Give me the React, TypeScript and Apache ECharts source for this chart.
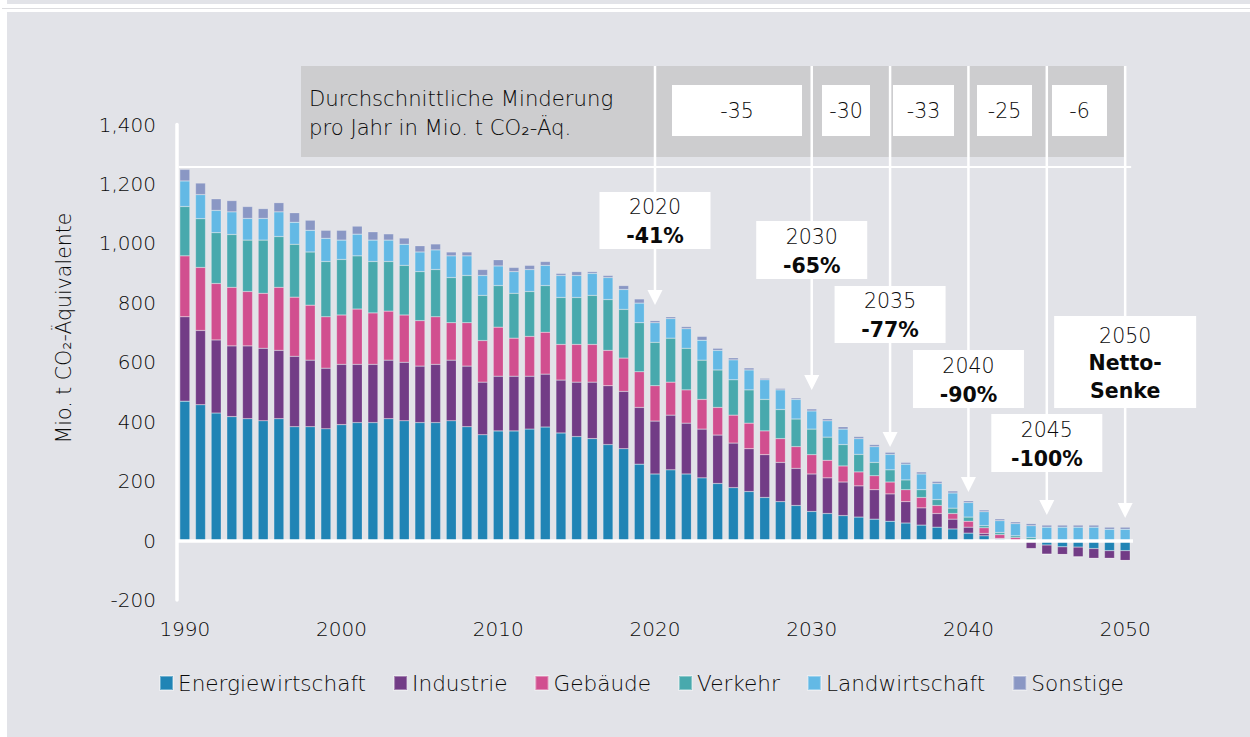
import { useEffect, useRef } from "react";
import * as echarts from "echarts";

const years: string[] = Array.from({ length: 61 }, (_, i) => String(1990 + i));

const seriesNames = ["Energiewirtschaft", "Industrie", "Gebäude", "Verkehr", "Landwirtschaft", "Sonstige"];
const seriesColors = ["#2084b5", "#723c86", "#d14f8f", "#48a9ad", "#63b9e5", "#8a97c4"];

const energie = [
  469, 457, 429, 417, 410, 403, 410, 383, 383, 376,
  390, 397, 397, 410, 403, 397, 397, 403, 383, 356,
  369, 369, 375, 382, 362, 350, 343, 323, 309, 257,
  224, 238, 224, 211, 192, 178, 165, 145, 131, 118,
  98, 91, 84, 79, 72, 65, 59, 52, 45, 39,
  25, 16, 5, 0, 0, -15, -21, -22, -27, -34,
  -34,
];
const industrie = [
  284, 250, 246, 238, 245, 244, 230, 237, 224, 204,
  203, 196, 196, 197, 197, 190, 196, 204, 204, 177,
  184, 184, 178, 178, 178, 183, 190, 198, 193, 191,
  178, 184, 171, 164, 163, 150, 144, 144, 132, 125,
  126, 120, 113, 105, 99, 92, 72, 58, 46, 33,
  20, 8, 2, 0, -27, -31, -26, -33, -33, -26,
  -33,
];
const gebaeude = [
  205, 212, 190, 197, 183, 185, 212, 199, 185, 173,
  166, 186, 173, 165, 159, 153, 160, 126, 146, 140,
  165, 128, 134, 141, 120, 127, 127, 119, 112, 120,
  119, 111, 112, 100, 93, 94, 86, 80, 80, 73,
  65, 59, 54, 47, 47, 40, 40, 35, 27, 19,
  20, 19, 13, 10, 0, 0, 0, 0, 0, 0,
  0,
];
const verkehr = [
  166, 164, 171, 178, 173, 179, 171, 178, 179, 186,
  187, 179, 173, 167, 167, 165, 159, 152, 159, 152,
  140, 151, 151, 157, 158, 158, 165, 171, 164, 165,
  146, 148, 140, 132, 126, 119, 112, 106, 98, 93,
  86, 78, 72, 59, 45, 41, 33, 26, 20, 18,
  14, 7, 7, 6, 10, 0, 0, 0, 0, 0,
  0,
];
const landwirtschaft = [
  86, 81, 75, 76, 73, 73, 83, 74, 73, 78,
  65, 73, 72, 72, 71, 66, 66, 73, 66, 67,
  66, 73, 74, 68, 74, 74, 74, 74, 67, 66,
  66, 66, 66, 67, 66, 67, 67, 66, 66, 66,
  61, 55, 52, 53, 53, 52, 53, 53, 54, 51,
  49, 47, 40, 41, 40, 45, 45, 45, 45, 38,
  38,
];
const sonstige = [
  39, 39, 39, 38, 40, 33, 31, 32, 34, 27,
  33, 27, 28, 21, 21, 21, 20, 13, 13, 20,
  21, 14, 14, 13, 7, 13, 6, 7, 13, 14,
  7, 6, 7, 13, 7, 7, 7, 5, 5, 5,
  7, 7, 8, 7, 7, 7, 6, 7, 7, 7,
  6, 6, 6, 6, 7, 7, 7, 7, 7, 7,
  7,
];
const seriesData = [energie, industrie, gebaeude, verkehr, landwirtschaft, sonstige];

const yTicks = { min: -200, max: 1400, interval: 200 };

// Milestones
const milestoneYears = ["2020", "2030", "2035", "2040", "2045", "2050"];
const milestoneTitles = ["2020", "2030", "2035", "2040", "2045", "2050"];
const milestoneValues = ["-41%", "-65%", "-77%", "-90%", "-100%", "Netto-\nSenke"];
const arrowTipValues = [793, 507, 315, 163, 86, 76];
const avgReduction = ["-35", "-30", "-33", "-25", "-6"];

// Layout (pixels)
const boxTops = [192, 221, 286, 350, 414, 316];
const boxWidths = [111, 111, 111, 111, 111, 142];
const boxHeights = [57, 58, 57, 58, 58, 92];
const tableBoxes = [[672, 802], [822, 870], [893, 954], [977, 1032], [1052, 1107]];

const FONT = "'DejaVu Sans', Roboto, sans-serif";
const TXT = "#0a0a0a";
const FW = 300;

export default function App() {
  const ref = useRef<HTMLDivElement>(null);
  useEffect(() => {
    document.body.style.margin = "0";
    const chart = echarts.init(ref.current!, null, { renderer: "svg" });
    const series: any[] = seriesNames.map((name, i) => ({
      name,
      type: "bar",
      stack: "total",
      barWidth: 10,
      data: seriesData[i],
      itemStyle: { color: seriesColors[i], borderColor: "rgba(255,255,255,0.35)", borderWidth: 0.5 },
      emphasis: { disabled: true },
    }));
    series[0].markLine = {
      silent: true,
      symbol: "none",
      label: { show: false },
      lineStyle: { color: "#ffffff", width: 3.5, type: "solid" },
      data: [{ yAxis: 0 }],
      z: 5,
    };
    chart.setOption({
      animation: false,
      backgroundColor: "transparent",
      textStyle: { fontFamily: FONT },
      grid: { left: 177, right: 117, top: 124.5, bottom: 137, containLabel: false },
      legend: {
        left: 154,
        top: 667,
        icon: "rect",
        itemWidth: 13,
        itemHeight: 14,
        itemGap: 27,
        textStyle: { fontSize: 21.6, color: TXT, fontFamily: FONT, fontWeight: FW },
        data: seriesNames,
      },
      xAxis: {
        type: "category",
        data: years,
        axisLine: { show: false },
        axisTick: { show: false },
        axisLabel: { interval: 9, fontSize: 20, color: TXT, margin: 19, fontFamily: FONT, fontWeight: FW },
      },
      yAxis: {
        type: "value",
        min: yTicks.min,
        max: yTicks.max,
        interval: yTicks.interval,
        axisLine: { show: true, lineStyle: { color: "#ffffff", width: 3.5 } },
        axisTick: { show: false },
        splitLine: { show: false },
        axisLabel: {
          fontSize: 20,
          color: TXT,
          margin: 21,
          fontFamily: FONT,
          fontWeight: FW,
          formatter: (v: number) => v.toLocaleString("en-US"),
        },
      },
      series,
    });

    const px = (year: string, v: number) =>
      chart.convertToPixel({ xAxisIndex: 0, yAxisIndex: 0 }, [year, v]) as number[];

    const xs = milestoneYears.map((y) => px(y, 0)[0]);
    const tips = milestoneYears.map((y, i) => px(y, arrowTipValues[i])[1]);
    const gridLeft = px(years[0], 0)[0] - 8;

    const g: any[] = [];
    g.push({
      type: "rect",
      shape: { x: 301, y: 66, width: xs[5] - 301, height: 91 },
      style: { fill: "#cdcdcf" },
      z: 1,
    });
    g.push({
      type: "text",
      x: 309,
      y: 98,
      style: { text: "Durchschnittliche Minderung", fontSize: 21.2, fontWeight: FW, fill: TXT, fontFamily: FONT, verticalAlign: "middle" },
      z: 3,
    });
    g.push({
      type: "text",
      x: 309,
      y: 127,
      style: { text: "pro Jahr in Mio. t CO₂-Äq.", fontSize: 21.2, fontWeight: FW, fill: TXT, fontFamily: FONT, verticalAlign: "middle" },
      z: 3,
    });
    tableBoxes.forEach((b, i) => {
      g.push({
        type: "rect",
        shape: { x: b[0], y: 85, width: b[1] - b[0], height: 51 },
        style: { fill: "#ffffff" },
        z: 2,
      });
      g.push({
        type: "text",
        x: (b[0] + b[1]) / 2,
        y: 111,
        style: { text: avgReduction[i], fontSize: 20.5, fontWeight: FW, fill: TXT, fontFamily: FONT, align: "center", verticalAlign: "middle" },
        z: 3,
      });
    });
    g.push({
      type: "line",
      shape: { x1: gridLeft + 2, y1: 167, x2: xs[5] + 6, y2: 167 },
      style: { stroke: "#ffffff", lineWidth: 2 },
      z: 1,
    });
    milestoneYears.forEach((_, i) => {
      const x = xs[i];
      const t = tips[i];
      g.push({
        type: "line",
        shape: { x1: x, y1: 66, x2: x, y2: t - 14 },
        style: { stroke: "#ffffff", lineWidth: 2.5 },
        z: 2,
      });
      g.push({
        type: "polygon",
        shape: { points: [[x - 7.5, t - 15], [x + 7.5, t - 15], [x, t]] },
        style: { fill: "#ffffff" },
        z: 2,
      });
      const w = boxWidths[i];
      const h = boxHeights[i];
      g.push({
        type: "rect",
        shape: { x: x - w / 2, y: boxTops[i], width: w, height: h },
        style: { fill: "#ffffff" },
        z: 4,
      });
      const lh = i === 5 ? 27.5 : 29;
      const valueLines = milestoneValues[i].split("\n").map((s) => `{b|${s}}`).join("\n");
      g.push({
        type: "text",
        x: x,
        y: boxTops[i] + h / 2 + 1,
        style: {
          text: `{a|${milestoneTitles[i]}}\n${valueLines}`,
          align: "center",
          verticalAlign: "middle",
          fontFamily: FONT,
          rich: {
            a: { fontSize: 20.5, lineHeight: lh, fill: TXT, fontFamily: FONT, fontWeight: FW, align: "center" },
            b: { fontSize: 20.5, lineHeight: lh, fill: TXT, fontWeight: "bold", fontFamily: FONT, align: "center" },
          },
        },
        z: 5,
      });
    });
    g.push({
      type: "text",
      x: 64,
      y: 328,
      rotation: Math.PI / 2,
      style: {
        text: "Mio. t CO₂-Äquivalente",
        fontSize: 20.5,
        fontWeight: FW,
        fill: TXT,
        fontFamily: FONT,
        align: "center",
        verticalAlign: "middle",
      },
      z: 3,
    });

    chart.setOption({ graphic: g });
    return () => chart.dispose();
  }, []);

  return (
    <div style={{ position: "relative", width: 1250, height: 737, background: "#ffffff", overflow: "hidden" }}>
      <div style={{ position: "absolute", left: 7, top: 0, width: 1243, height: 4, background: "#e2e3e8" }} />
      <div style={{ position: "absolute", left: 2, top: 8, width: 1248, height: 1, background: "#dcdcdf" }} />
      <div style={{ position: "absolute", left: 7, top: 12, width: 1243, height: 725, background: "#e2e3e8" }} />
      <div ref={ref} style={{ position: "absolute", left: 0, top: 0, width: 1250, height: 737 }} />
    </div>
  );
}
